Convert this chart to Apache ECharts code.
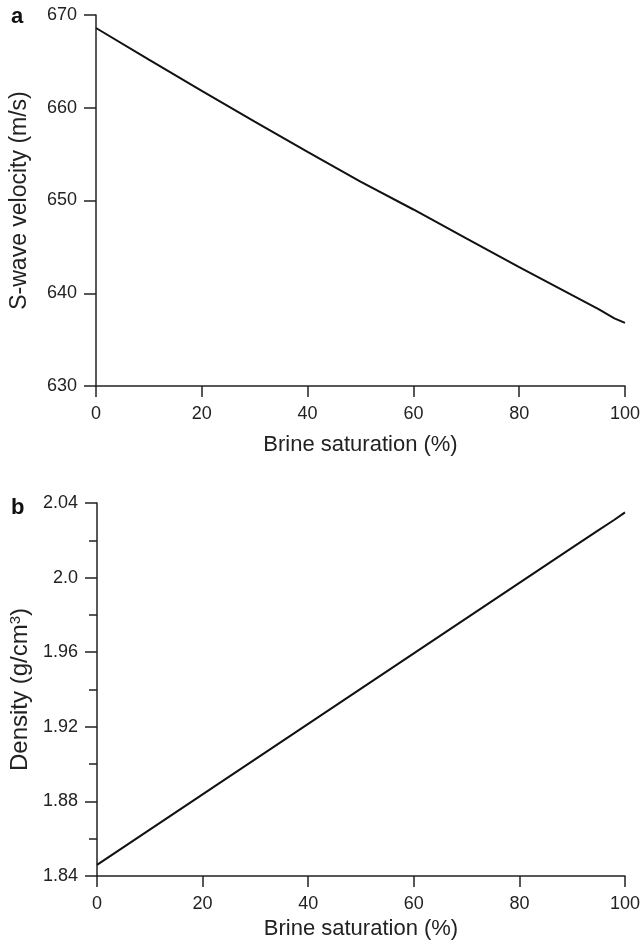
<!DOCTYPE html>
<html>
<head>
<meta charset="utf-8">
<script src="https://cdn.jsdelivr.net/npm/echarts@6/dist/echarts.min.js"></script>
<style>
  html, body { margin: 0; padding: 0; background: #fff; }
  #chart { width: 643px; height: 946px; }
</style>
</head>
<body>
<div id="chart"></div>
<script>
// brine saturation (%)
const saturation = [0, 10, 20, 30, 40, 50, 60, 70, 80, 90, 95, 98, 100]
// panel a: S-wave velocity (m/s)
const vsValues = [668.6, 665.18, 661.82, 658.51, 655.25, 652.03, 649.03, 645.91, 642.82, 639.79, 638.29, 637.3, 636.8]
// panel b: density (g/cm3)
const rhoValues = [1.846, 1.8649, 1.8838, 1.9027, 1.9216, 1.9405, 1.9594, 1.9783, 1.9972, 2.0161, 2.0255, 2.031, 2.035]

const densityLabels = { '1.84': '1.84', '1.88': '1.88', '1.92': '1.92', '1.96': '1.96', '2': '2.0', '2.04': '2.04' }

const ink = '#222'
const font = 'Liberation Sans, Arial, sans-serif'

const chart = echarts.init(document.getElementById('chart'), null, { renderer: 'canvas' })

const xAxisBase = (gridIndex, gap) => ({
  type: 'value',
  gridIndex,
  min: 0,
  max: 100,
  interval: 20,
  name: 'Brine saturation (%)',
  nameLocation: 'middle',
  nameGap: gap,
  nameTextStyle: { color: ink, fontSize: 22, fontFamily: font },
  axisLine: { show: true, onZero: false, lineStyle: { color: ink, width: 1.5 } },
  axisTick: { show: true, inside: false, length: 11, lineStyle: { color: ink, width: 1.5 } },
  axisLabel: { color: ink, fontSize: 18, fontFamily: font, margin: 19 },
  splitLine: { show: false }
})

const yAxisBase = {
  type: 'value',
  nameLocation: 'middle',
  nameRotate: 90,
  axisLine: { show: true, onZero: false, lineStyle: { color: ink, width: 1.5 } },
  axisTick: { show: true, inside: false, length: 12, lineStyle: { color: ink, width: 1.5 } },
  axisLabel: { color: ink, fontSize: 18, fontFamily: font, margin: 19 },
  splitLine: { show: false }
}

const option = {
  backgroundColor: '#fff',
  animation: false,
  grid: [
    { left: 94, right: 17, top: 15, height: 371 },
    { left: 94, right: 17, top: 503, height: 373 }
  ],
  xAxis: [xAxisBase(0, 48), xAxisBase(1, 42)],
  yAxis: [
    {
      ...yAxisBase,
      gridIndex: 0,
      min: 630,
      max: 670,
      interval: 10,
      name: 'S-wave velocity (m/s)',
      nameGap: 65,
      nameTextStyle: { color: ink, fontSize: 23, fontFamily: font }
    },
    {
      ...yAxisBase,
      gridIndex: 1,
      min: 1.84,
      max: 2.04,
      interval: 0.04,
      minorTick: { show: true, splitNumber: 2, length: 8, lineStyle: { color: ink, width: 1.5 } },
      axisLabel: {
        ...yAxisBase.axisLabel,
        formatter: (v) => densityLabels[String(+v.toFixed(2))] ?? v.toFixed(2)
      },
      name: '{t|Density (g/cm}{s|3}{t|)}',
      nameGap: 65,
      nameTextStyle: {
        rich: {
          t: { color: ink, fontSize: 24, fontFamily: font },
          s: { color: ink, fontSize: 15, fontFamily: font, verticalAlign: 'top', padding: [0, 0, 8, 0] }
        }
      }
    }
  ],
  graphic: [
    { type: 'text', left: 11, top: 6, style: { text: 'a', fontSize: 22, fontWeight: 'bold', fontFamily: font, fill: '#111' } },
    { type: 'text', left: 11, top: 497, style: { text: 'b', fontSize: 22, fontWeight: 'bold', fontFamily: font, fill: '#111' } }
  ],
  series: [
    {
      type: 'line',
      xAxisIndex: 0,
      yAxisIndex: 0,
      data: saturation.map((s, i) => [s, vsValues[i]]),
      smooth: false,
      showSymbol: false,
      lineStyle: { color: '#111', width: 2 }
    },
    {
      type: 'line',
      xAxisIndex: 1,
      yAxisIndex: 1,
      data: saturation.map((s, i) => [s, rhoValues[i]]),
      smooth: false,
      showSymbol: false,
      lineStyle: { color: '#111', width: 2 }
    }
  ]
}

chart.setOption(option)
</script>
</body>
</html>
